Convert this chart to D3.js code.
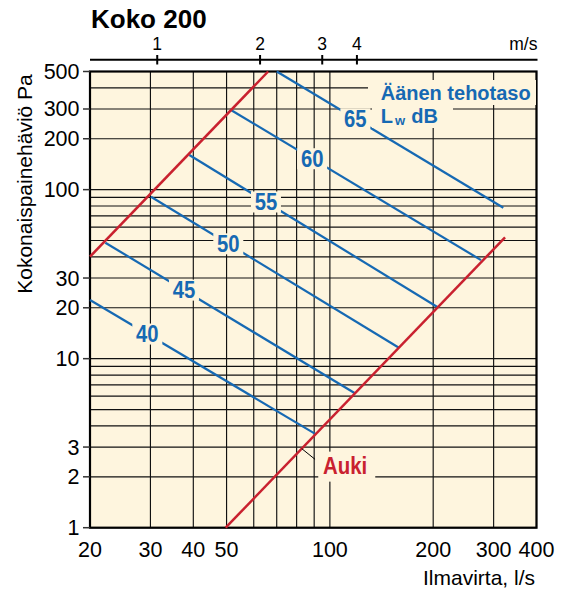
<!DOCTYPE html>
<html>
<head>
<meta charset="utf-8">
<script src="https://cdnjs.cloudflare.com/ajax/libs/d3/7.8.5/d3.min.js"></script>
<style>
  html, body { margin: 0; padding: 0; background: #ffffff; }
  svg { display: block; font-family: "Liberation Sans", Arial, Helvetica, sans-serif; }
</style>
</head>
<body>
<svg id="chart" width="568" height="594"></svg>
<script>
// ---- Data ----
const title = "Koko 200";
const xTickValues = [20, 30, 40, 50, 100, 200, 300, 400];
const xGridValues = [20, 30, 40, 50, 60, 70, 80, 90, 100, 200, 300, 400];
const yTickValues = [1, 2, 3, 10, 20, 30, 100, 200, 300, 500];
const yGridValues = [1, 2, 3, 4, 5, 6, 7, 8, 9, 10, 20, 30, 40, 50, 60, 70, 80, 90, 100, 200, 300, 400, 500];
const velocityLabels = ["1", "2", "3", "4"];
const velocityFlows = [31.4, 62.6, 95.0, 119.9];   // l/s position of each m/s tick

const soundLevels = [40, 45, 50, 55, 60, 65];
const soundStartQ = [20, 22.17, 30.1, 38.95, 51.2, 70.0];
const soundStartP = [22.24, 48.55, 90.8, 160.3, 298, 500];
const soundEndQ   = [90.9, 118.3, 158.9, 205.6, 275.7, 320.2];
const soundEndP   = [3.58, 6.24, 11.61, 20.2, 38.3, 78.2];
const soundLabelAt = [0.254, 0.315, 0.312, 0.309, 0.327, 0.347];

const damperNames = ["", "Auki"];
const damperStartQ = [20, 49.7];
const damperStartP = [40.1, 1];
const damperEndQ   = [66.1, 323.9];
const damperEndP   = [500, 52.2];
const aukiAnchorQ = 82.8;

// ---- Layout ----
const svg = d3.select("#chart");
const L = 90, R = 536.5, T = 71.5, B = 527.7;
const x = d3.scaleLog().domain([20, 400]).range([L, R]);
const y = d3.scaleLog().domain([1, 500]).range([B, T]);

const cream = "#FEF5DE";
const red = "#C9212F";
const blue = "#1669B3";

// Title
svg.append("text").attr("x", 91).attr("y", 28)
  .attr("font-size", 26).attr("font-weight", "bold").attr("fill", "#000")
  .text(title);

// Plot background
svg.append("rect").attr("x", L).attr("y", T).attr("width", R - L).attr("height", B - T)
  .attr("fill", cream);

// Grid
const grid = svg.append("g").attr("stroke", "#111").attr("stroke-width", 1.15);
grid.selectAll("line.v").data(xGridValues).join("line")
  .attr("x1", d => x(d)).attr("x2", d => x(d)).attr("y1", T).attr("y2", B);
grid.selectAll("line.h").data(yGridValues).join("line")
  .attr("y1", d => y(d)).attr("y2", d => y(d)).attr("x1", L).attr("x2", R);

// Frame
svg.append("rect").attr("x", L).attr("y", T).attr("width", R - L).attr("height", B - T)
  .attr("fill", "none").attr("stroke", "#000").attr("stroke-width", 2.2);

// Y axis ticks + labels
const yAxisG = svg.append("g");
yAxisG.selectAll("line").data(yTickValues).join("line")
  .attr("x1", 83).attr("x2", L).attr("y1", d => y(d)).attr("y2", d => y(d))
  .attr("stroke", "#333").attr("stroke-width", 1.5);
yAxisG.selectAll("text").data(yTickValues).join("text")
  .attr("x", 79.5).attr("y", d => y(d) + 7.5)
  .attr("text-anchor", "end").attr("font-size", 21.5).attr("fill", "#000")
  .text(d => d);

// X axis labels
svg.append("g").selectAll("text").data(xTickValues).join("text")
  .attr("x", d => x(d)).attr("y", 557.3)
  .attr("text-anchor", "middle").attr("font-size", 21.5).attr("fill", "#000")
  .text(d => d);

// Axis titles
svg.append("text").attr("transform", "translate(31.5,184) rotate(-90)")
  .attr("text-anchor", "middle").attr("font-size", 21).attr("fill", "#000")
  .text("Kokonaispainehäviö Pa");
svg.append("text").attr("x", 535).attr("y", 585)
  .attr("text-anchor", "end").attr("font-size", 21).attr("fill", "#000")
  .text("Ilmavirta, l/s");

// Top velocity axis
const topY = 59.7;
svg.append("line").attr("x1", L).attr("x2", 537.5).attr("y1", topY).attr("y2", topY)
  .attr("stroke", "#000").attr("stroke-width", 2);
svg.append("g").selectAll("line").data(velocityFlows).join("line")
  .attr("x1", d => x(d)).attr("x2", d => x(d)).attr("y1", 55).attr("y2", 64.5)
  .attr("stroke", "#000").attr("stroke-width", 2);
svg.append("g").selectAll("text").data(velocityFlows).join("text")
  .attr("x", d => x(d)).attr("y", 50)
  .attr("text-anchor", "middle").attr("font-size", 17.5).attr("fill", "#000")
  .text((d, i) => velocityLabels[i]);
svg.append("text").attr("x", 537.5).attr("y", 50).attr("text-anchor", "end")
  .attr("font-size", 17.5).attr("fill", "#000").text("m/s");

// Lines
const line = d3.line().x(d => x(d[0])).y(d => y(d[1]));
const soundData = soundLevels.map((lv, i) => ({
  level: lv,
  pts: [[soundStartQ[i], soundStartP[i]], [soundEndQ[i], soundEndP[i]]],
  at: soundLabelAt[i]
}));
const damperData = damperNames.map((n, i) => ({
  name: n,
  pts: [[damperStartQ[i], damperStartP[i]], [damperEndQ[i], damperEndP[i]]]
}));

svg.append("g").selectAll("path").data(soundData).join("path")
  .attr("d", d => line(d.pts)).attr("fill", "none")
  .attr("stroke", blue).attr("stroke-width", 2.2);
svg.append("g").selectAll("path").data(damperData).join("path")
  .attr("d", d => line(d.pts)).attr("fill", "none")
  .attr("stroke", red).attr("stroke-width", 2.5);

// Sound level labels
function interpLog(pts, t) {
  const q = Math.exp(Math.log(pts[0][0]) + t * (Math.log(pts[1][0]) - Math.log(pts[0][0])));
  const p = Math.exp(Math.log(pts[0][1]) + t * (Math.log(pts[1][1]) - Math.log(pts[0][1])));
  return [q, p];
}
const lab = svg.append("g").selectAll("g").data(soundData).join("g")
  .attr("transform", d => { const c = interpLog(d.pts, d.at); return `translate(${x(c[0])},${y(c[1])})`; });
lab.append("rect").attr("x", -15).attr("y", -10.5).attr("width", 30).attr("height", 21).attr("fill", cream);
lab.append("text").attr("transform", "scale(0.88,1)").attr("y", 8.3)
  .attr("text-anchor", "middle").attr("font-size", 23).attr("font-weight", "bold")
  .attr("fill", blue).text(d => d.level);

// Legend
svg.append("rect").attr("x", 368).attr("y", 80).attr("width", 168).attr("height", 25).attr("fill", cream);
svg.append("rect").attr("x", 372).attr("y", 105).attr("width", 81).attr("height", 23).attr("fill", cream);
svg.append("text").attr("x", 380.7).attr("y", 100).attr("font-size", 20).attr("font-weight", "bold")
  .attr("fill", blue).text("Äänen tehotaso");
const lw = svg.append("text").attr("y", 123.3).attr("font-size", 20).attr("font-weight", "bold").attr("fill", blue);
lw.append("tspan").attr("x", 380.7).text("L");
lw.append("tspan").attr("x", 395).attr("dy", 2).attr("font-size", 13).text("w");
lw.append("tspan").attr("x", 411.2).attr("dy", -2).text("dB");

// Auki label
const aukiLine = damperData[1].pts;
const tA = Math.log(aukiAnchorQ / aukiLine[0][0]) / Math.log(aukiLine[1][0] / aukiLine[0][0]);
const anchor = interpLog(aukiLine, tA);
const ax = x(anchor[0]), ay = y(anchor[1]);
svg.append("line").attr("x1", ax).attr("y1", ay).attr("x2", ax + 13.3).attr("y2", ay + 10.7)
  .attr("stroke", "#000").attr("stroke-width", 1);
svg.append("rect").attr("x", ax + 16.5).attr("y", ay + 3).attr("width", 57).attr("height", 30).attr("fill", cream);
svg.append("text").attr("transform", `translate(${ax + 43.3},${ay + 25.8}) scale(0.85,1)`)
  .attr("text-anchor", "middle").attr("font-size", 24).attr("font-weight", "bold")
  .attr("fill", red).text("Auki");
</script>
</body>
</html>
